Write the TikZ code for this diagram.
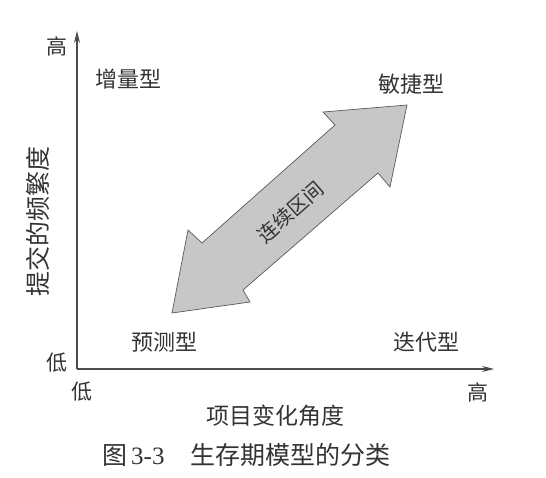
\documentclass[tikz,border=0pt]{standalone}
\usepackage{fontspec}
\setmainfont{Liberation Serif}
\newfontfamily\cjk{Noto Sans CJK SC}
\usetikzlibrary{arrows.meta}
\begin{document}
\begin{tikzpicture}[x=1pt,y=-1pt,
  lbl/.style={font=\cjk\fontsize{22}{22}\selectfont, text=black!80, inner sep=0pt},
  tick/.style={font=\cjk\fontsize{21}{21}\selectfont, text=black!80, inner sep=0pt},
  axis/.style={draw=black!70, line width=1.1pt, -{Stealth[length=12pt,width=6pt]}},
  band/.style={draw=black!65, line width=0.7pt, fill=black!22}]
  \useasboundingbox (0,0) rectangle (546,478);

  % axes
  \coordinate (O) at (77,369);
  \coordinate (Ytop) at (77,31);
  \coordinate (Xend) at (494,369);
  \draw[axis] (O) -- (Ytop);
  \draw[axis] (O) -- (Xend);

  % tick labels
  \node[tick] (yhi) at (57,46) {高};
  \node[tick] (ylo) at (57,363) {低};
  \node[tick] (xlo) at (82,392) {低};
  \node[tick] (xhi) at (478,392) {高};

  % axis titles
  \node[lbl, rotate=90, font=\cjk\fontsize{25}{25}\selectfont] (ytitle) at (38,222) {提交的频繁度};
  \node[lbl, font=\cjk\fontsize{23}{23}\selectfont] (xtitle) at (275,416) {项目变化角度};

  % quadrant labels
  \node[lbl] (incr)  at (128,79) {增量型};
  \node[lbl] (agile) at (411,84) {敏捷型};
  \node[lbl] (pred)  at (164,342) {预测型};
  \node[lbl] (iter)  at (426,342) {迭代型};

  % double-headed band between the predictive and agile corners
  \draw[band] (407,105) -- (323,112) -- (335,125) -- (202,243) -- (188,230)
    -- (172,313) -- (250,302) -- (243,290) -- (378,173) -- (390,187) -- cycle;
  \node[lbl, rotate=41.5, font=\cjk\fontsize{20}{20}\selectfont] (range) at (290,212) {连续区间};

  % caption
  \node[inner sep=0pt, anchor=west, text=black!80] (cap) at (102,455)
    {\fontsize{25}{25}\selectfont{\cjk 图}\hspace{4pt}3-3\hspace{26pt}{\cjk 生存期模型的分类}};
\end{tikzpicture}
\end{document}
